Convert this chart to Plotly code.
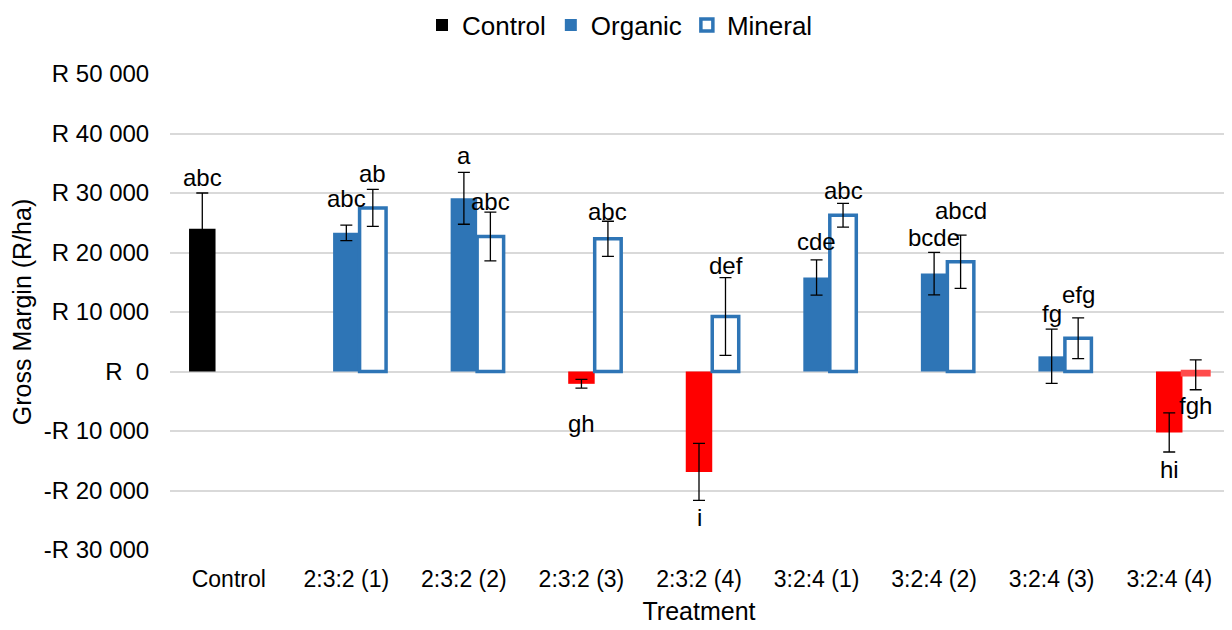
import plotly.graph_objects as go

categories = ["Control", "2:3:2 (1)", "2:3:2 (2)", "2:3:2 (3)", "2:3:2 (4)",
              "3:2:4 (1)", "3:2:4 (2)", "3:2:4 (3)", "3:2:4 (4)"]

control_vals = [24000, None, None, None, None, None, None, None, None]
control_err = [6000, None, None, None, None, None, None, None, None]
control_lbl = ["abc", "", "", "", "", "", "", "", ""]

organic_vals = [None, 23300, 29100, -2070, -16870, 15800, 16450, 2550, -10250]
organic_err = [None, 1300, 4350, 730, 4800, 2970, 3580, 4560, 3280]
organic_lbl = ["", "abc", "a", "gh", "i", "cde", "bcde", "fg", "hi"]

mineral_vals = [None, 27500, 22700, 22300, 9250, 26250, 18450, 5600, -550]
mineral_err = [None, 3100, 4100, 2950, 6530, 2000, 4480, 3420, 2520]
mineral_lbl = ["", "ab", "abc", "abc", "def", "abc", "abcd", "efg", "fgh"]

y_tick_vals = [-30000, -20000, -10000, 0, 10000, 20000, 30000, 40000, 50000]
y_tick_text = ["-R 30 000", "-R 20 000", "-R 10 000", "R\u00a0\u00a00", "R 10 000",
               "R 20 000", "R 30 000", "R 40 000", "R 50 000"]

# label offsets (pixels from error-bar end, to label centre) -- styling only
control_off = [16, 0, 0, 0, 0, 0, 0, 0, 0]
organic_off = [0, 27, 17, 35, 17, 18, 15, 16, 17]
mineral_off = [0, 16, 11, 10, 12, 13, 25, 23, 16]

BLUE = "#2E75B6"
RED = "#FF0000"
FONT = "Liberation Sans, Arial, sans-serif"

fig = go.Figure()

fig.add_trace(go.Bar(
    name="Control", x=categories, y=control_vals,
    marker=dict(color="#000000", line=dict(width=0)),
    error_y=dict(type="data", array=control_err, color="#000000", thickness=1.3, width=6),
))

org_colors = [RED if (v is not None and v < 0) else BLUE for v in organic_vals]
fig.add_trace(go.Bar(
    name="Organic", x=categories, y=organic_vals,
    marker=dict(color=org_colors, line=dict(width=0)),
    error_y=dict(type="data", array=organic_err, color="#000000", thickness=1.3, width=6),
))

min_fill = [RED if (v is not None and v < 0) else "#FFFFFF" for v in mineral_vals]
min_line = ["#FF4B4B" if (v is not None and v < 0) else BLUE for v in mineral_vals]
fig.add_trace(go.Bar(
    name="Mineral", x=categories, y=mineral_vals,
    marker=dict(color=min_fill, line=dict(color=min_line, width=3.5)),
    error_y=dict(type="data", array=mineral_err, color="#000000", thickness=1.3, width=6),
))

BAR_PX = 26.5
series = [
    (control_vals, control_err, control_lbl, control_off, -1),
    (organic_vals, organic_err, organic_lbl, organic_off, 0),
    (mineral_vals, mineral_err, mineral_lbl, mineral_off, 1),
]
for vals, errs, lbls, offs, slot in series:
    for c, v, e, t, o in zip(categories, vals, errs, lbls, offs):
        if v is None or not t:
            continue
        if v >= 0:
            yv, ys = v + e, o
        else:
            yv, ys = v - e, -o
        fig.add_annotation(
            x=c, y=yv, text=t, showarrow=False, xshift=slot * BAR_PX, yshift=ys,
            yanchor="middle", xanchor="center",
            font=dict(family=FONT, size=24, color="#000000"),
        )

# page body has an 8px margin, so the figure is 8px smaller and margins compensate
fig.update_layout(
    width=1224, height=622,
    barmode="group", bargap=0.324, bargroupgap=0,
    plot_bgcolor="#FFFFFF", paper_bgcolor="#FFFFFF",
    margin=dict(l=162, r=4, t=66, b=80),
    font=dict(family=FONT, size=24, color="#000000"),
    showlegend=True,
    legend=dict(orientation="h", x=0.5, xanchor="center", xref="container",
                y=0.9727, yanchor="middle", yref="container",
                font=dict(family=FONT, size=26, color="#000000"),
                itemwidth=30, traceorder="normal"),
    xaxis=dict(
        type="category", showgrid=False, showline=False, zeroline=False,
        ticks="outside", ticklen=8, tickcolor="rgba(0,0,0,0)", tickfont=dict(size=23),
        title=dict(text="Treatment", font=dict(size=25), standoff=11),
        automargin=False,
    ),
    yaxis=dict(
        range=[-30000, 50000], tickmode="array", tickvals=y_tick_vals, ticktext=y_tick_text,
        showgrid=True, gridcolor="#D9D9D9", gridwidth=2, zeroline=False,
        showline=False, ticks="outside", ticklen=15, tickcolor="rgba(0,0,0,0)",
        tickfont=dict(size=24),
        title=dict(text="Gross Margin (R/ha)", font=dict(size=25), standoff=6),
        automargin=False,
    ),
)

fig.write_html("out.html")
